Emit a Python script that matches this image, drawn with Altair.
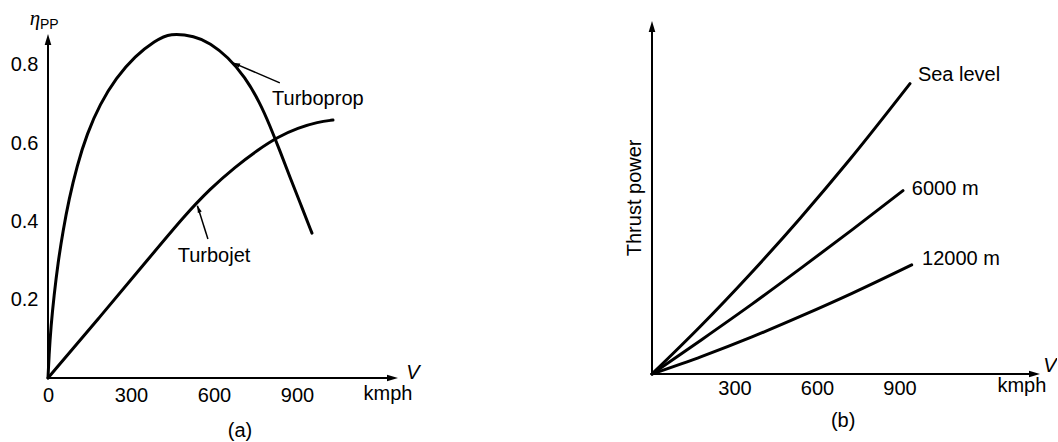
import altair as alt
import pandas as pd

FONT = "Liberation Sans"
INK = "#000000"

# ---------------- Panel (a): propulsive efficiency vs flight speed ----------------
tp_speed = [0, 3.6, 10.8, 21.7, 36.1, 54.2, 75.9, 104.8, 140.9, 187.9, 245.8, 314.5, 386.8,
            440.9, 531.3, 585.5, 650.5, 711.9, 766.1, 802.3, 838.4, 874.5, 914.3, 954.1]
tp_eta = [0, 0.056, 0.133, 0.210, 0.294, 0.376, 0.457, 0.542, 0.624, 0.700, 0.766, 0.823, 0.861,
          0.882, 0.873, 0.856, 0.820, 0.769, 0.703, 0.644, 0.580, 0.513, 0.442, 0.370]
tj_speed = [0, 187.9, 368.6, 495.1, 585.5, 675.8, 758.9, 831.2, 903.5, 975.8, 1030]
tj_eta = [0, 0.156, 0.309, 0.416, 0.483, 0.539, 0.583, 0.616, 0.639, 0.654, 0.659]

a_xticks = [0, 300, 600, 900]
a_yticks = [0.2, 0.4, 0.6, 0.8]
a_xdomain = [0, 1265]
a_ydomain = [0, 0.912]
a_axis_tip = [1265, 0.879]        # arrow tips of the x and y axes
a_axis_line_end = [1243, 0.864]   # where the axis lines end under the arrow heads

# annotation pointers: tail, tip, arrow-head angle
a_ptr_tail_x = [838, 578]
a_ptr_tail_y = [0.754, 0.355]
a_ptr_tip_x = [669, 540]
a_ptr_tip_y = [0.805, 0.440]
a_ptr_angle = [292, 340]

a_labels_left = ["Turboprop"]
a_labels_left_x = [810]
a_labels_left_y = [0.713]
a_labels_center = ["Turbojet", "kmph", "(a)"]
a_labels_center_x = [600, 1229, 694]
a_labels_center_y = [0.312, -0.041, -0.135]
a_eta_pos = [-47, 0.917]
a_pp_pos = [-29, 0.902]
a_v_pos = [1319, 0.013]

# ---------------- Panel (b): thrust power vs flight speed ----------------
sl_speed = [0, 174.5, 356.4, 538.2, 720.0, 938.2]
sl_power = [0, 13.1, 27.7, 43.2, 59.6, 80.6]
m6_speed = [0, 181.8, 363.6, 545.5, 727.3, 912.7]
m6_power = [0, 9.6, 19.4, 29.6, 40.0, 50.9]
m12_speed = [0, 181.8, 363.6, 545.5, 727.3, 944.4]
m12_power = [0, 4.9, 10.3, 16.2, 22.4, 30.3]

b_xticks = [300, 600, 900]
b_xdomain = [0, 1411]
b_ydomain = [0, 98]
b_axis_tip = [1411, 98]
b_axis_line_end = [1389, 96.5]

b_labels_left = ["Sea level", "6000 m", "12000 m"]
b_labels_left_x = [967, 945, 982]
b_labels_left_y = [83.1, 51.4, 31.9]
b_labels_center = ["kmph", "(b)"]
b_labels_center_x = [1345, 695]
b_labels_center_y = [-3.3, -13.1]
b_ytitle_pos = [-62, 48.9]
b_v_pos = [1447, 2.2]

ARROW = "M0,0L-0.6,2L0.6,2Z"

# ---------- build panel (a) ----------
a_xaxis = alt.Axis(values=a_xticks, format="d", title=None, domain=False, ticks=False, tickSize=0,
                   grid=False, labelFontSize=20, labelFont=FONT, labelColor=INK, labelPadding=7,
                   labelFlush=False, labelOverlap=False)
a_yaxis = alt.Axis(values=a_yticks, format=".1f", title=None, domain=False, ticks=False, tickSize=0,
                   grid=False, labelFontSize=20, labelFont=FONT, labelColor=INK, labelPadding=10,
                   labelOverlap=False)
a_xs = alt.Scale(domain=a_xdomain, nice=False, zero=False)
a_ys = alt.Scale(domain=a_ydomain, nice=False, zero=False)


def ea(chart, **extra):
    return chart.encode(x=alt.X("x:Q", scale=a_xs, axis=a_xaxis),
                        y=alt.Y("y:Q", scale=a_ys, axis=a_yaxis), **extra)


curves_a = pd.concat([
    pd.DataFrame({"x": tp_speed, "y": tp_eta, "s": "Turboprop"}),
    pd.DataFrame({"x": tj_speed, "y": tj_eta, "s": "Turbojet"}),
])
a_lines = ea(alt.Chart(curves_a).mark_line(color=INK, strokeWidth=3, interpolate="basis",
                                           strokeCap="round"),
             detail="s:N")

a_axes_df = pd.DataFrame({"x": [0, 0], "y": [0, 0],
                          "x2": [0, a_axis_line_end[0]], "y2": [a_axis_line_end[1], 0]})
a_axes = ea(alt.Chart(a_axes_df).mark_rule(color=INK, strokeWidth=2), x2="x2:Q", y2="y2:Q")

a_ptr_df = pd.DataFrame({"x": a_ptr_tail_x, "y": a_ptr_tail_y, "x2": a_ptr_tip_x, "y2": a_ptr_tip_y})
a_ptr = ea(alt.Chart(a_ptr_df).mark_rule(color=INK, strokeWidth=1.5), x2="x2:Q", y2="y2:Q")

a_heads_df = pd.DataFrame({
    "x": [0, a_axis_tip[0]] + a_ptr_tip_x,
    "y": [a_axis_tip[1], 0] + a_ptr_tip_y,
    "ang": [0, 90] + a_ptr_angle,
    "sz": [121, 121, 49, 49],
})
a_heads = ea(alt.Chart(a_heads_df).mark_point(shape=ARROW, filled=True, color=INK, opacity=1, strokeWidth=0),
             angle=alt.Angle("ang:Q", scale=None), size=alt.Size("sz:Q", scale=None))

a_tl = ea(alt.Chart(pd.DataFrame({"x": a_labels_left_x, "y": a_labels_left_y, "t": a_labels_left}))
          .mark_text(align="left", baseline="middle", fontSize=20, font=FONT, color=INK), text="t:N")
a_tc = ea(alt.Chart(pd.DataFrame({"x": a_labels_center_x, "y": a_labels_center_y, "t": a_labels_center}))
          .mark_text(align="center", baseline="middle", fontSize=20, font=FONT, color=INK), text="t:N")
a_eta = ea(alt.Chart(pd.DataFrame({"x": [a_eta_pos[0]], "y": [a_eta_pos[1]], "t": ["η"]}))
           .mark_text(align="center", baseline="middle", fontSize=21, font="Liberation Serif",
                      fontStyle="italic", color=INK), text="t:N")
a_pp = ea(alt.Chart(pd.DataFrame({"x": [a_pp_pos[0]], "y": [a_pp_pos[1]], "t": ["PP"]}))
          .mark_text(align="left", baseline="middle", fontSize=14, font=FONT, color=INK), text="t:N")
a_v = ea(alt.Chart(pd.DataFrame({"x": [a_v_pos[0]], "y": [a_v_pos[1]], "t": ["V"]}))
         .mark_text(align="center", baseline="middle", fontSize=20, font=FONT, fontStyle="italic",
                    color=INK), text="t:N")

panel_a = alt.layer(a_lines, a_axes, a_ptr, a_heads, a_tl, a_tc, a_eta, a_pp, a_v).properties(
    width=350, height=357)

# ---------- build panel (b) ----------
b_xaxis = alt.Axis(values=b_xticks, format="d", title=None, domain=False, ticks=False, tickSize=0,
                   grid=False, labelFontSize=20, labelFont=FONT, labelColor=INK, labelPadding=4,
                   labelFlush=False, labelOverlap=False)
b_xs = alt.Scale(domain=b_xdomain, nice=False, zero=False)
b_ys = alt.Scale(domain=b_ydomain, nice=False, zero=False)


def eb(chart, **extra):
    return chart.encode(x=alt.X("x:Q", scale=b_xs, axis=b_xaxis),
                        y=alt.Y("y:Q", scale=b_ys, axis=None), **extra)


curves_b = pd.concat([
    pd.DataFrame({"x": sl_speed, "y": sl_power, "s": "Sea level"}),
    pd.DataFrame({"x": m6_speed, "y": m6_power, "s": "6000 m"}),
    pd.DataFrame({"x": m12_speed, "y": m12_power, "s": "12000 m"}),
])
b_lines = eb(alt.Chart(curves_b).mark_line(color=INK, strokeWidth=3, interpolate="monotone",
                                           strokeCap="round"),
             detail="s:N")

b_axes_df = pd.DataFrame({"x": [0, 0], "y": [0, 0],
                          "x2": [0, b_axis_line_end[0]], "y2": [b_axis_line_end[1], 0]})
b_axes = eb(alt.Chart(b_axes_df).mark_rule(color=INK, strokeWidth=2), x2="x2:Q", y2="y2:Q")

b_heads_df = pd.DataFrame({"x": [0, b_axis_tip[0]], "y": [b_axis_tip[1], 0], "ang": [0, 90], "sz": [121, 121]})
b_heads = eb(alt.Chart(b_heads_df).mark_point(shape=ARROW, filled=True, color=INK, opacity=1, strokeWidth=0),
             angle=alt.Angle("ang:Q", scale=None), size=alt.Size("sz:Q", scale=None))

b_tl = eb(alt.Chart(pd.DataFrame({"x": b_labels_left_x, "y": b_labels_left_y, "t": b_labels_left}))
          .mark_text(align="left", baseline="middle", fontSize=20, font=FONT, color=INK), text="t:N")
b_tc = eb(alt.Chart(pd.DataFrame({"x": b_labels_center_x, "y": b_labels_center_y, "t": b_labels_center}))
          .mark_text(align="center", baseline="middle", fontSize=20, font=FONT, color=INK), text="t:N")
b_title = eb(alt.Chart(pd.DataFrame({"x": [b_ytitle_pos[0]], "y": [b_ytitle_pos[1]], "t": ["Thrust power"]}))
             .mark_text(align="center", baseline="middle", angle=270, fontSize=20, font=FONT, color=INK),
             text="t:N")
b_v = eb(alt.Chart(pd.DataFrame({"x": [b_v_pos[0]], "y": [b_v_pos[1]], "t": ["V"]}))
         .mark_text(align="center", baseline="middle", fontSize=20, font=FONT, fontStyle="italic",
                    color=INK), text="t:N")

panel_b = alt.layer(b_lines, b_axes, b_heads, b_tl, b_tc, b_title, b_v).properties(
    width=388, height=353)

chart = (
    alt.hconcat(panel_a, panel_b, spacing=254, bounds="flush")
    .properties(padding={"left": 10, "top": 8, "right": 0, "bottom": 0}, background="white")
    .configure_view(stroke=None)
)

chart.save("out.html", embed_options={"renderer": "svg", "actions": False})
